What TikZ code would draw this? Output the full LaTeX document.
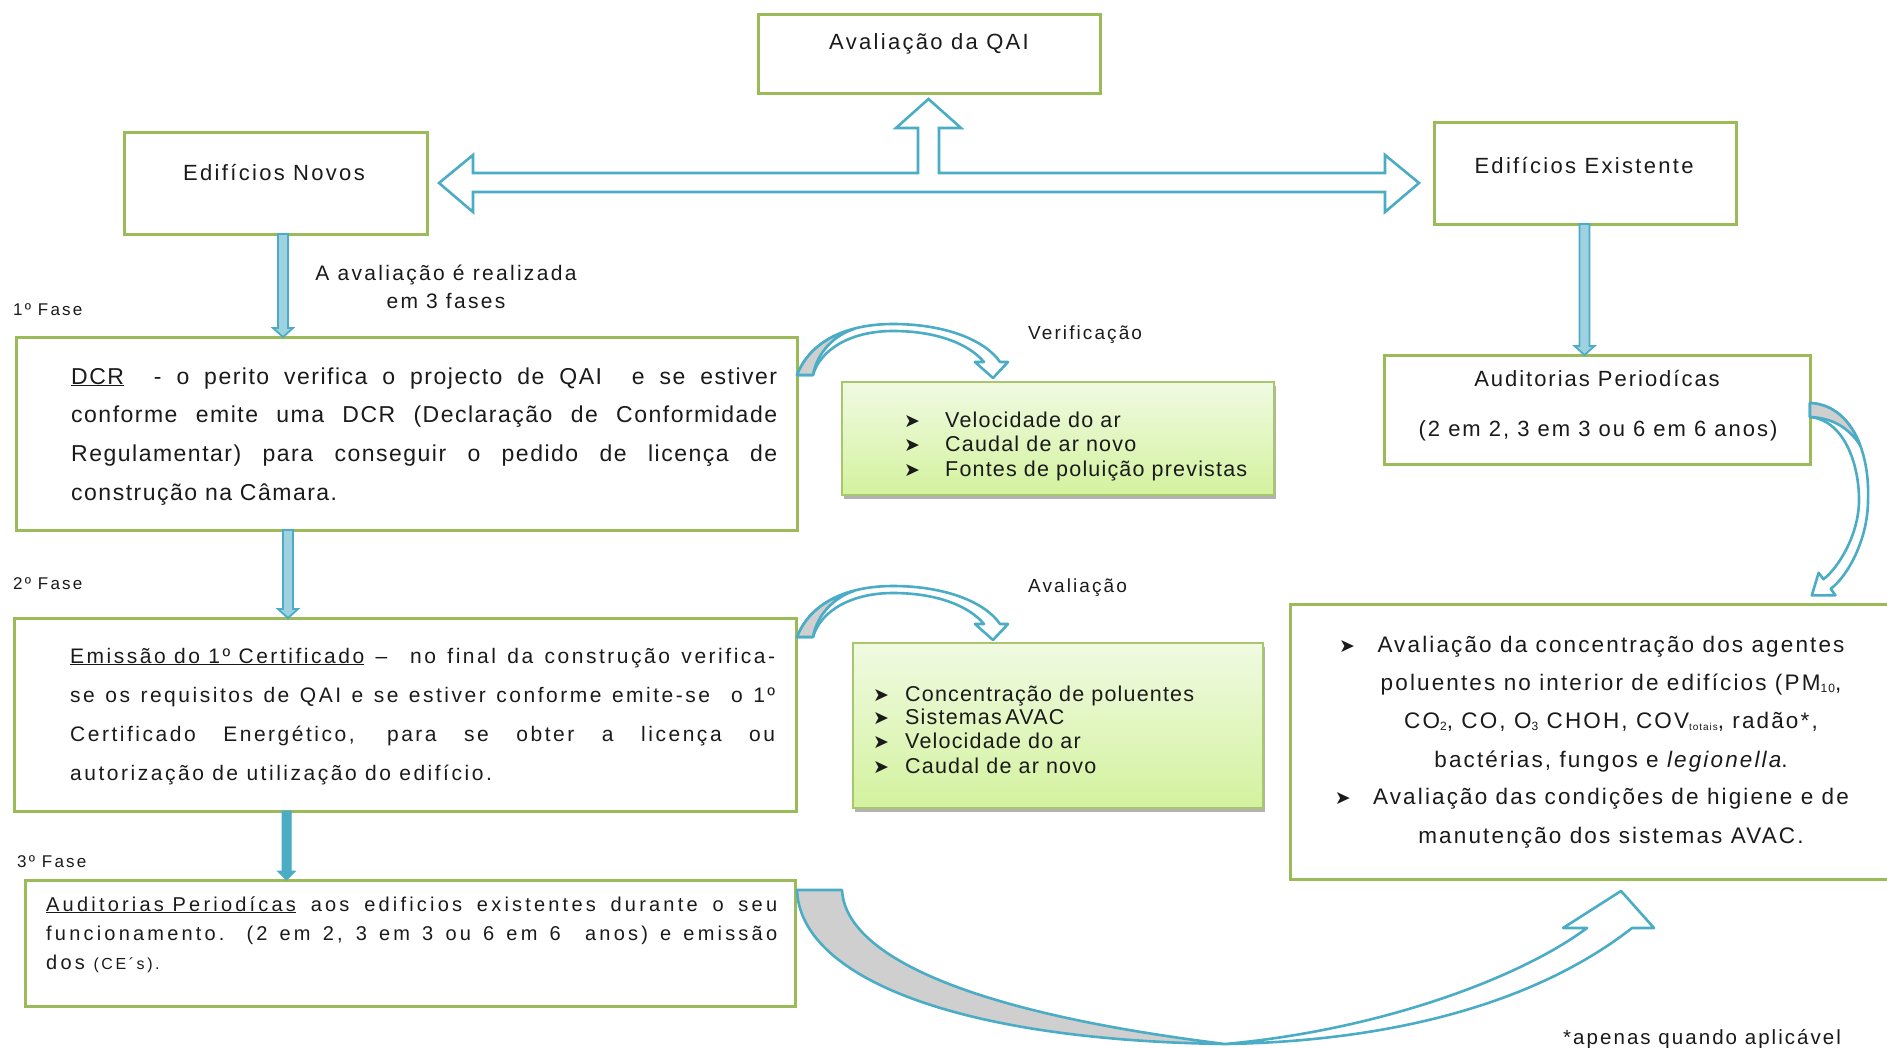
\documentclass[tikz,border=0pt]{standalone}
\usepackage{fontspec}
\setmainfont{Liberation Sans}
\newfontfamily\dejavu{DejaVu Sans}
\usetikzlibrary{shadows,calc}
\definecolor{boxgreen}{HTML}{9BBB59}
\definecolor{ablue}{HTML}{4BACC6}
\definecolor{alight}{HTML}{9FD2E1}
\definecolor{agray}{HTML}{CFCFCF}
\definecolor{gtop}{HTML}{F0FAE2}
\definecolor{gbot}{HTML}{D3F29E}
\definecolor{gborder}{HTML}{A8C66C}
\definecolor{inkc}{HTML}{1A1A1A}
\newcommand\fsz[2]{\fontsize{#1pt}{#1pt}\selectfont\addfontfeatures{LetterSpace=#2}}
\newcommand\mybul{{\dejavu\fontsize{19pt}{19pt}\selectfont ➤}}
\newcommand\mysub[2][12]{\raisebox{-2pt}{\fontsize{#1pt}{#1pt}\selectfont #2}}
\newcommand\vthin[3]{\draw[thinarrow] let \p1=(#2), \p2=(#3) in (#1pt-5pt,\y1) -- (#1pt+5pt,\y1) -- (#1pt+5pt,\y2+9pt) -- (#1pt+10pt,\y2+9pt) -- (#1pt,\y2) -- (#1pt-10pt,\y2+9pt) -- (#1pt-5pt,\y2+9pt) -- cycle;}
\newcommand\vsolid[3]{\draw[solidarrow] let \p1=(#2), \p2=(#3) in (#1pt-4.5pt,\y1) -- (#1pt+4.5pt,\y1) -- (#1pt+4.5pt,\y2+9pt) -- (#1pt+9pt,\y2+9pt) -- (#1pt,\y2) -- (#1pt-9pt,\y2+9pt) -- (#1pt-4.5pt,\y2+9pt) -- cycle;}
\begin{document}
\begin{tikzpicture}[x=1pt,y=-1pt,
  gbox/.style={draw=boxgreen, line width=3pt, fill=white, inner sep=0pt, outer sep=0pt, anchor=north west},
  lbox/.style={draw=gborder, line width=2pt, top color=gtop, bottom color=gbot, inner sep=0pt, outer sep=0pt, anchor=north west,
    drop shadow={shadow xshift=2pt, shadow yshift=-4pt, opacity=0.3, fill=black}},
  txt/.style={inner sep=0pt, text=inkc},
  blockarrow/.style={draw=ablue, line width=2.6pt, fill=white, line join=miter},
  curvearrow/.style={draw=ablue, line width=2.6pt, fill=white, line join=round},
  twist/.style={draw=ablue, line width=2.6pt, fill=agray, line join=round},
  thinarrow/.style={draw=ablue, line width=1.8pt, fill=alight, line join=miter},
  solidarrow/.style={draw=ablue, fill=ablue, line width=1pt}]
\useasboundingbox (0,0) rectangle (1887,1047);
\fill[white] (0,0) rectangle (1887,1047);

% boxes
\node[gbox, minimum width=342pt, minimum height=79pt] (qai) at (758,14) {};
\node[gbox, minimum width=303pt, minimum height=102pt] (novos) at (124,132) {};
\node[gbox, minimum width=302pt, minimum height=102pt] (exist) at (1434,122) {};
\node[gbox, minimum width=781pt, minimum height=193pt] (dcr) at (16,337) {};
\node[gbox, minimum width=782pt, minimum height=193pt] (emis) at (14,618) {};
\node[gbox, minimum width=770pt, minimum height=126pt] (audL) at (25,880) {};
\node[gbox, minimum width=426pt, minimum height=109pt] (audR) at (1384,355) {};
\node[gbox, minimum width=620pt, minimum height=275pt] (big) at (1290,604) {};
\node[lbox, minimum width=432pt, minimum height=113pt] (verif) at (842,382) {};
\node[lbox, minimum width=410pt, minimum height=165pt] (aval) at (853,643) {};

% top labels
\node[txt, anchor=base, font=\fsz{22}{10.5}] (qaiT) at (929,49) {Avaliação da QAI};
\node[txt, anchor=base, font=\fsz{22}{10.5}] (novosT) at (274,180) {Edifícios Novos};
\node[txt, anchor=base, font=\fsz{22}{10.5}] (existT) at (1584,173) {Edifícios Existente};
\node[txt, anchor=base, font=\fsz{21}{11}] (av1) at (446,280) {A avaliação é realizada};
\node[txt, anchor=base, font=\fsz{21}{11}] (av2) at (446,308) {em 3 fases};
\node[txt, anchor=base west, font=\fsz{17}{13}] (f1) at (13,315) {1º Fase};
\node[txt, anchor=base west, font=\fsz{17}{13}] (f2) at (13,589) {2º Fase};
\node[txt, anchor=base west, font=\fsz{17}{13}] (f3) at (17,867) {3º Fase};

% DCR
\node[txt, anchor=base west, font=\fsz{23}{6.5}] (d1) at (71,384) {\makebox[706pt][s]{\underline{DCR}\ \ - o perito verifica o projecto de QAI\ \ e se estiver}};
\node[txt, anchor=base west, font=\fsz{23}{6.5}] (d2) at (71,422.5) {\makebox[706pt][s]{conforme emite uma DCR (Declaração de Conformidade}};
\node[txt, anchor=base west, font=\fsz{23}{6.5}] (d3) at (71,461) {\makebox[706pt][s]{Regulamentar) para conseguir o pedido de licença de}};
\node[txt, anchor=base west, font=\fsz{23}{6.5}] (d4) at (71,500) {construção na Câmara.};

% Emissao
\node[txt, anchor=base west, font=\fsz{21}{12}] (e1) at (70,663) {\makebox[705pt][s]{\underline{Emissão do 1º Certificado} –\ \ no final da construção verifica-}};
\node[txt, anchor=base west, font=\fsz{21}{12}] (e2) at (70,702) {\makebox[705pt][s]{se os requisitos de QAI e se estiver conforme emite-se\ \ o 1º}};
\node[txt, anchor=base west, font=\fsz{21}{12}] (e3) at (70,741) {\makebox[705pt][s]{Certificado Energético, para se obter a licença ou}};
\node[txt, anchor=base west, font=\fsz{21}{12}] (e4) at (70,780) {autorização de utilização do edifício.};

% Auditorias left
\node[txt, anchor=base west, font=\fsz{20}{16}] (a1) at (46,911) {\makebox[731pt][s]{\underline{Auditorias Periodícas} aos edificios existentes durante o seu}};
\node[txt, anchor=base west, font=\fsz{20}{16}] (a2) at (46,940) {\makebox[731pt][s]{funcionamento. (2 em 2, 3 em 3 ou 6 em 6\ \ anos) e emissão}};
\node[txt, anchor=base west, font=\fsz{20}{16}] (a3) at (46,969) {dos {\fontsize{16pt}{16pt}\selectfont (CE´s).}};

% Verificacao
\node[txt, anchor=base west, font=\fsz{19}{11}] (verT) at (1028,339) {Verificação};
\node[txt, anchor=base west, font=\fsz{21.5}{5.5}] (v1) at (945,427) {Velocidade do ar};
\node[txt, anchor=base west, font=\fsz{21.5}{5.5}] (v2) at (945,451) {Caudal de ar novo};
\node[txt, anchor=base west, font=\fsz{21.5}{5.5}] (v3) at (945,476) {Fontes de poluição previstas};
\node[txt, anchor=base west] (vb1) at (904,427) {\mybul};
\node[txt, anchor=base west] (vb2) at (904,451) {\mybul};
\node[txt, anchor=base west] (vb3) at (904,476) {\mybul};

% Avaliacao
\node[txt, anchor=base west, font=\fsz{19}{11}] (avT) at (1028,592) {Avaliação};
\node[txt, anchor=base west, font=\fsz{21.5}{5.5}] (w1) at (905,701) {Concentração de poluentes};
\node[txt, anchor=base west, font=\fsz{21.5}{5.5}] (w2) at (905,724.5) {Sistemas\,AVAC};
\node[txt, anchor=base west, font=\fsz{21.5}{5.5}] (w3) at (905,748.5) {Velocidade do ar};
\node[txt, anchor=base west, font=\fsz{21.5}{5.5}] (w4) at (905,773) {Caudal de ar novo};
\node[txt, anchor=base west] (wb1) at (873,701) {\mybul};
\node[txt, anchor=base west] (wb2) at (873,724.5) {\mybul};
\node[txt, anchor=base west] (wb3) at (873,748.5) {\mybul};
\node[txt, anchor=base west] (wb4) at (873,773) {\mybul};

% Auditorias right
\node[txt, anchor=base, font=\fsz{22}{9}] (ar1) at (1597,386) {Auditorias Periodícas};
\node[txt, anchor=base, font=\fsz{22}{9}] (ar2) at (1598,436) {(2 em 2, 3 em 3 ou 6 em 6 anos)};

% big right box
\node[txt, anchor=base, font=\fsz{22.5}{9.5}] (r1) at (1611,652.5) {Avaliação da concentração dos agentes};
\node[txt, anchor=base, font=\fsz{22.5}{9.5}] (r2) at (1611,690) {poluentes no interior de edifícios (PM\mysub{10},};
\node[txt, anchor=base, font=\fsz{22.5}{9.5}] (r3) at (1611,728.5) {CO\mysub{2}, CO, O\mysub{3} CHOH, COV\mysub[10]{totais}, radão*,};
\node[txt, anchor=base, font=\fsz{22.5}{9.5}] (r4) at (1611,767) {bactérias, fungos e \textit{legionella}.};
\node[txt, anchor=base, font=\fsz{22.5}{9.5}] (r5) at (1611,804) {Avaliação das condições de higiene e de};
\node[txt, anchor=base, font=\fsz{22.5}{9.5}] (r6) at (1611,843) {manutenção dos sistemas AVAC.};
\node[txt, anchor=base east] (rb1) at ([xshift=-22pt]r1.base west) {\mybul};
\node[txt, anchor=base east] (rb5) at ([xshift=-22pt]r5.base west) {\mybul};

\node[txt, anchor=base west, font=\fsz{20.5}{10}] (note) at (1563,1044) {*apenas quando aplicável};

% straight arrows
\vthin{283}{novos.south}{dcr.north}
\vthin{288}{dcr.south}{emis.north}
\vsolid{286.5}{emis.south}{audL.north}
\vthin{1584.5}{exist.south}{audR.north}

% three-way block arrow
\draw[blockarrow] (439,183) -- (473,155) -- (473,173) -- (918,173) -- (918,128) -- (896,128) -- (928.5,99) -- (961,128) -- (939,128) -- (939,173) -- (1385,173) -- (1385,155) -- (1419,183) -- (1385,212) -- (1385,192) -- (473,192) -- (473,212) -- cycle;

% curved arrows DCR -> Verificacao, Emissao -> Avaliacao
\foreach \dy in {0,262} {
\begin{scope}[shift={(0,\dy)}]
\draw[curvearrow] (797,375) .. controls (810,342) and (845,324) .. (893,324) .. controls (945,324) and (985,340) .. (1000,362) -- (1008,362) -- (993,378) -- (975,362) -- (984,362) .. controls (968,343) and (935,331) .. (893,331) .. controls (850,331) and (820,350) .. (813,375) -- cycle;
\draw[twist] (797,375) .. controls (806,352) and (826,336) .. (854,329) .. controls (835,335) and (817,352) .. (813,375) -- cycle;
\end{scope}
}

% curved arrow Auditorias right -> big box
\draw[curvearrow] (1810,403) .. controls (1850,405) and (1870,450) .. (1868,500) .. controls (1868,540) and (1847,577) .. (1830.6,588.8) -- (1835.4,595.2) -- (1811.8,595.4) -- (1818.6,572.8) -- (1823.4,579.2) .. controls (1837.8,568.4) and (1859,535) .. (1859,500) .. controls (1859,462) and (1843,420) .. (1810,417) -- cycle;
\draw[twist] (1810,403) .. controls (1834,404) and (1851,421) .. (1860,445) .. controls (1850,430) and (1835,418) .. (1810,417) -- cycle;

% big bottom arrow
\draw[twist] (797,890) -- (842,890) .. controls (845,950) and (950,1010) .. (1225,1044) .. controls (950,1040) and (800,975) .. (797,890) -- cycle;
\draw[curvearrow] (1225,1044) .. controls (1400,1041) and (1540,1000) .. (1632,928) -- (1654,928) -- (1621,891) -- (1563,928) -- (1587,928) .. controls (1520,978) and (1380,1030) .. (1225,1044) -- cycle;
\end{tikzpicture}
\end{document}
